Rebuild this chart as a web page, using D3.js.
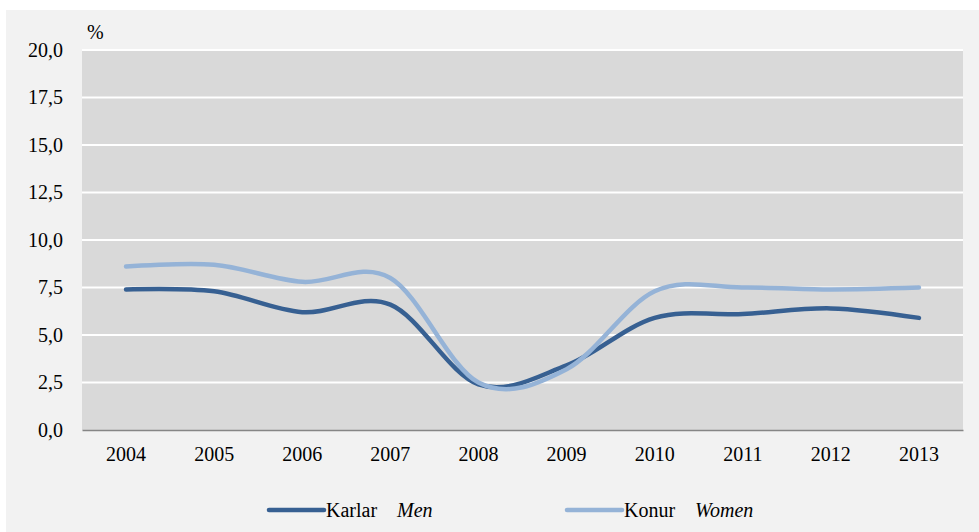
<!DOCTYPE html>
<html>
<head>
<meta charset="utf-8">
<script src="https://cdn.jsdelivr.net/npm/d3@7"></script>
<style>
  body { margin: 0; background: #fff; }
  svg text { font-family: "Liberation Serif", "Times New Roman", Times, "DejaVu Serif", serif; fill: #000; }
</style>
</head>
<body>
<script>
// data
var years = ["2004","2005","2006","2007","2008","2009","2010","2011","2012","2013"];
var men   = [7.4, 7.3, 6.2, 6.6, 2.4, 3.4, 5.9, 6.1, 6.4, 5.9];
var women = [8.6, 8.7, 7.8, 8.0, 2.5, 3.2, 7.3, 7.5, 7.4, 7.5];
var yTicks = [0, 2.5, 5, 7.5, 10, 12.5, 15, 17.5, 20];

var width = 979, height = 532;
var plot = {left: 82, right: 963, top: 50, bottom: 430};
var serif = '"Liberation Serif", "Times New Roman", Times, "DejaVu Serif", serif';

var svg = d3.select("body").append("svg")
    .attr("width", width)
    .attr("height", height)
    .attr("font-family", serif);

// outer panel
svg.append("rect")
    .attr("x", 6).attr("y", 10)
    .attr("width", width - 6).attr("height", height - 10)
    .attr("fill", "#f2f2f2");

// plot area
svg.append("rect")
    .attr("x", plot.left).attr("y", plot.top)
    .attr("width", plot.right - plot.left).attr("height", plot.bottom - plot.top)
    .attr("fill", "#d9d9d9");

var x = d3.scaleBand()
    .domain(years)
    .range([plot.left, plot.right]);

var y = d3.scaleLinear()
    .domain([0, 20])
    .range([plot.bottom, plot.top]);

var fmt = function(d){ return d3.format(".1f")(d).replace(".", ","); };

// horizontal gridlines
svg.selectAll(".grid")
    .data(yTicks.filter(function(d){ return d > 0; }))
    .enter().append("line")
    .attr("class", "grid")
    .attr("x1", plot.left).attr("x2", plot.right)
    .attr("y1", function(d){ return y(d); })
    .attr("y2", function(d){ return y(d); })
    .attr("stroke", "#fff")
    .attr("stroke-width", 2);

// y axis labels
var yAxis = svg.append("g")
    .attr("transform", "translate(" + plot.left + ",0)")
    .call(d3.axisLeft(y).tickValues(yTicks).tickFormat(fmt).tickSize(0).tickPadding(19));
yAxis.attr("font-family", serif).attr("font-size", 20);
yAxis.select(".domain").remove();
yAxis.selectAll("text").attr("fill", "#000");

// x axis
var xAxis = svg.append("g")
    .attr("transform", "translate(0," + plot.bottom + ")")
    .call(d3.axisBottom(x).tickSize(0).tickPadding(17));
xAxis.attr("font-family", serif).attr("font-size", 20);
xAxis.select(".domain")
    .attr("stroke", "#868686")
    .attr("stroke-width", 1.5);
xAxis.selectAll("text").attr("fill", "#000");

svg.append("text")
    .attr("x", 87).attr("y", 39)
    .attr("font-size", 20)
    .text("%");

// lines
var line = d3.line()
    .x(function(d, i){ return x(years[i]) + x.bandwidth() / 2; })
    .y(function(d){ return y(d); })
    .curve(d3.curveCatmullRom.alpha(0));

var series = [
  {name: "Karlar", en: "Men", values: men, color: "#376092"},
  {name: "Konur", en: "Women", values: women, color: "#95b3d7"}
];

svg.selectAll(".series")
    .data(series)
    .enter().append("path")
    .attr("class", "series")
    .attr("d", function(d){ return line(d.values); })
    .attr("fill", "none")
    .attr("stroke", function(d){ return d.color; })
    .attr("stroke-width", 4.5)
    .attr("stroke-linecap", "round");

// legend
var legendX = [269, 567];
var leg = svg.selectAll(".legend")
    .data(series)
    .enter().append("g")
    .attr("class", "legend")
    .attr("transform", function(d, i){ return "translate(" + legendX[i] + ",510)"; });
leg.append("line")
    .attr("x1", 0).attr("x2", 55)
    .attr("stroke", function(d){ return d.color; })
    .attr("stroke-width", 4.5)
    .attr("stroke-linecap", "round");
var lt = leg.append("text")
    .attr("x", 57).attr("y", 7)
    .attr("font-size", 20);
lt.append("tspan").text(function(d){ return d.name; });
lt.append("tspan")
    .attr("dx", 20)
    .attr("font-style", "italic")
    .text(function(d){ return d.en; });
</script>
</body>
</html>
